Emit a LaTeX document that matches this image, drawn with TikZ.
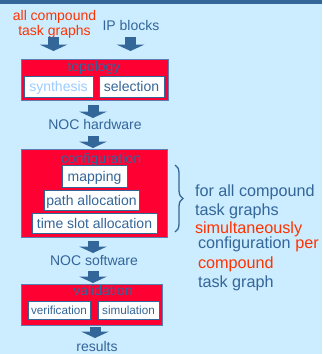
\documentclass[tikz,border=0pt]{standalone}
\usepackage{fontspec}
\setmainfont{Liberation Sans}
\usetikzlibrary{arrows.meta,decorations.pathreplacing}

\definecolor{bg}{HTML}{CCECFF}
\definecolor{navy}{HTML}{336699}
\definecolor{boxred}{HTML}{FF0033}
\definecolor{hot}{HTML}{FF3300}
\definecolor{pale}{HTML}{99CCFF}
\definecolor{rim}{HTML}{5B7DB1}

\begin{document}
\begin{tikzpicture}[x=1pt,y=-1pt,
  every node/.style={inner sep=0pt, outer sep=0pt,
    font=\fontsize{14}{16}\selectfont, text=navy},
  stage/.style={rectangle, draw=rim, line width=1pt, fill=boxred},
  sub/.style={rectangle, draw=navy, line width=0.8pt, fill=white,
    text height=11pt, text depth=1pt},
  smallsub/.style={sub, font=\fontsize{11.7}{14}\selectfont,
    text height=9.5pt, text depth=1.5pt},
  lbl/.style={anchor=base},
  note/.style={anchor=base west, font=\fontsize{16.2}{19}\selectfont},
  flow/.style={draw=navy, line width=11pt,
    -{Triangle[width=28pt,length=6.5pt,line width=0pt]}},
  bracket/.style={draw=navy, line width=1.3pt, decorate,
    decoration={brace, amplitude=8pt}}
]
  % canvas
  \fill[bg] (0,0) rectangle (322,354);
  \useasboundingbox (0,0) rectangle (322,354);
  \fill[navy] (0,0) rectangle (322,3.5);

  % inputs
  \node[lbl, text=hot] (ctg1) at (54.5,20) {all compound};
  \node[lbl, text=hot] (ctg2) at (54.5,35) {task graphs};
  \node[lbl] (ip) at (131,30) {IP blocks};

  % topology stage
  \node[stage, minimum width=147pt, minimum height=41pt] (topo) at (94.5,79.5) {};
  \node[lbl] (topot) at (94,71) {topology};
  \node[sub, text=pale, minimum width=69pt, minimum height=21pt] (synth) at (58.5,86.5) {synthesis};
  \node[sub, minimum width=65pt, minimum height=21pt] (sel) at (131.5,86.5) {selection};

  \node[lbl] (hw) at (95,129) {NOC hardware};

  % configuration stage
  \node[stage, minimum width=146pt, minimum height=88pt] (conf) at (94,193) {};
  \node[lbl] (conft) at (101,163) {configuration};
  \node[sub, minimum width=65pt, minimum height=22pt] (map) at (94.5,176) {mapping};
  \node[sub, minimum width=95pt, minimum height=20pt] (path) at (91.5,200) {path allocation};
  \node[sub, minimum width=125pt, minimum height=20pt] (slot) at (94.5,223) {time slot allocation};

  \node[lbl] (sw) at (94,265) {NOC software};

  % validation stage
  \node[stage, minimum width=141pt, minimum height=41pt] (valid) at (91.5,304.5) {};
  \node[lbl] (validt) at (103,295) {validation};
  \node[smallsub, minimum width=62pt, minimum height=18pt] (ver) at (59,310) {verification};
  \node[smallsub, minimum width=61pt, minimum height=18pt] (sim) at (128.5,310) {simulation};

  \node[lbl] (res) at (97,351) {results};

  % flow arrows
  \coordinate (a1s) at (53.5,37);  \coordinate (a1e) at (53.5,51);
  \coordinate (a2s) at (130.5,37); \coordinate (a2e) at (130.5,51);
  \coordinate (a3s) at (93,105);   \coordinate (a3e) at (93,118);
  \coordinate (a4s) at (93,136);   \coordinate (a4e) at (93,148);
  \coordinate (a5s) at (93,241);   \coordinate (a5e) at (93,253);
  \coordinate (a6s) at (93,271);   \coordinate (a6e) at (93,283);
  \coordinate (a7s) at (95,327);   \coordinate (a7e) at (95,338);
  \draw[flow] (a1s) -- (a1e);
  \draw[flow] (a2s) -- (a2e);
  \draw[flow] (a3s) -- (a3e);
  \draw[flow] (a4s) -- (a4e);
  \draw[flow] (a5s) -- (a5e);
  \draw[flow] (a6s) -- (a6e);
  \draw[flow] (a7s) -- (a7e);

  % brace and side notes
  \coordinate (bt) at (175,165);
  \coordinate (bb) at (175,232);
  \draw[bracket] (bt) -- (bb);
  \node[note] (n1) at (195,196) {for all compound};
  \node[note] (n2) at (195,215) {task graphs};
  \node[note, text=hot] (n3) at (195,233) {simultaneously};
  \node[note] (n4) at (198,248) {configuration \textcolor{hot}{per}};
  \node[note, text=hot] (n5) at (198,268) {compound};
  \node[note] (n6) at (198,287) {task graph};
\end{tikzpicture}
\end{document}
